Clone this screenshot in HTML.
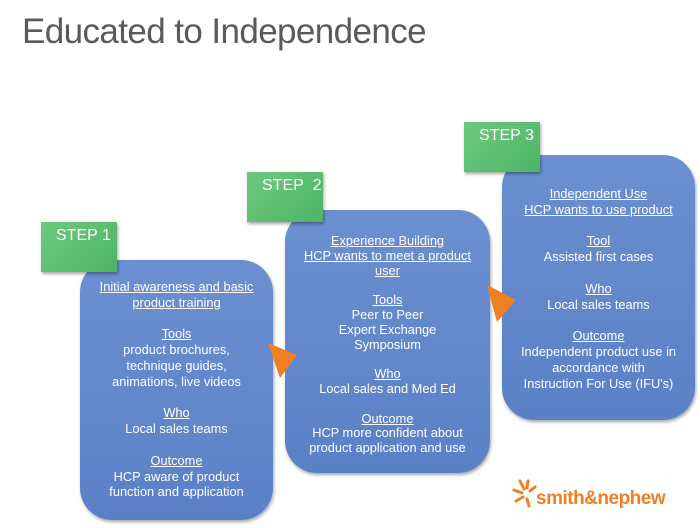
<!DOCTYPE html>
<html><head><meta charset="utf-8"><style>
body{margin:0;width:700px;height:528px;background:#fff;position:relative;overflow:hidden;font-family:"Liberation Sans",sans-serif}
.t{position:absolute;left:22px;top:12px;font-size:35px;color:#5a5a5a;letter-spacing:-0.6px}
.box{position:absolute;background:linear-gradient(#6b8fd0,#5b80c6);border-radius:32px;box-shadow:1px 2px 3px rgba(0,0,0,.35);color:#fff;text-align:center;font-size:12.8px}
.box div{position:absolute;left:0;right:0}
.u{text-decoration:underline}
.g{position:absolute;width:76px;height:50px;background:linear-gradient(135deg,#6cc97e,#4fb466);box-shadow:1px 2px 3px rgba(0,0,0,.35);color:#fff;font-size:16px;box-sizing:border-box;padding:5px 0 0 15px}
</style></head><body>
<div class="t">Educated to Independence</div>

<div class="box" style="left:80px;top:260px;width:193px;height:260px">
<div style="top:19px;line-height:15.8px"><span class="u">Initial awareness and basic</span><br><span class="u">product training</span><br><br><span class="u">Tools</span><br>product brochures,<br>technique guides,<br>animations, live videos<br><br><span class="u">Who</span><br>Local sales teams<br><br><span class="u">Outcome</span><br>HCP aware of product<br>function and application</div>
</div>
<div class="g" style="left:41px;top:222px">STEP 1</div>

<div class="box" style="left:285px;top:210px;width:205px;height:263px">
<div style="top:24px;line-height:14.8px"><span class="u">Experience Building</span><br><span class="u">HCP wants to meet a product</span><br><span class="u">user</span><br><br><span class="u">Tools</span><br>Peer to Peer<br>Expert Exchange<br>Symposium<br><br><span class="u">Who</span><br>Local sales and Med Ed<br><br><span class="u">Outcome</span><br>HCP more confident about<br>product application and use</div>
</div>
<div class="g" style="left:247px;top:172px">STEP&nbsp; 2</div>

<div class="box" style="left:502px;top:155px;width:193px;height:265px">
<div style="top:31px;line-height:15.8px"><span class="u">Independent Use</span><br><span class="u">HCP wants to use product</span><br><br><span class="u">Tool</span><br>Assisted first cases<br><br><span class="u">Who</span><br>Local sales teams<br><br><span class="u">Outcome</span><br>Independent product use in<br>accordance with<br>Instruction For Use (IFU's)</div>
</div>
<div class="g" style="left:464px;top:122px">STEP 3</div>

<svg style="position:absolute;left:0;top:0" width="700" height="528">
<polygon points="268,343 297,355 280,378" fill="#f07f22"/>
<polygon points="487,285 516,300 497,322" fill="#f07f22"/>
<g stroke="#f07f22" stroke-width="3" stroke-linecap="round">
<line x1="514" y1="490" x2="522" y2="493"/><line x1="516" y1="501" x2="523" y2="497"/>
<line x1="520" y1="481" x2="524" y2="489"/><line x1="527" y1="488" x2="528" y2="481"/>
<line x1="527" y1="499" x2="529" y2="506"/><line x1="530" y1="491" x2="535" y2="487"/>
</g>
<text x="536" y="504" font-family="Liberation Sans" font-weight="bold" font-size="19" fill="#f07f22" letter-spacing="-0.5">smith&amp;nephew</text>
</svg>
</body></html>
